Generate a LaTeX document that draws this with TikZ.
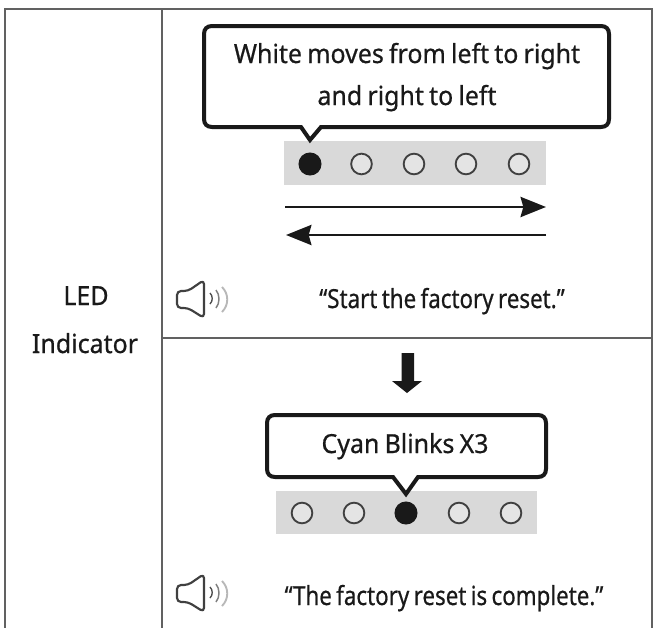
\documentclass[tikz,border=0pt]{standalone}
\usepackage{fontspec}
\setmainfont[FakeStretch=0.95,FakeBold=0.6,WordSpace=0.8]{Noto Sans}
\newfontfamily\tightfont[FakeStretch=0.85,FakeBold=0.6,WordSpace=0.75]{Noto Sans}
\usetikzlibrary{arrows.meta}
\definecolor{rulegray}{gray}{0.38}
\definecolor{barfill}{gray}{0.85}
\definecolor{ink}{gray}{0.1}
\tikzset{
  x=0.75pt,y=-0.75pt,
  tablerule/.style={draw=rulegray,line width=1.3pt},
  bubble/.style={draw=ink,line width=3pt,fill=white,line join=miter,miter limit=6},
  bar/.style={fill=barfill,draw=none},
  ledon/.style={circle,fill=ink,draw=ink,line width=0.8pt,minimum size=16.5pt,inner sep=0pt},
  ledoff/.style={circle,fill=barfill!70!white,draw=black!75,line width=1.4pt,minimum size=15.5pt,inner sep=0pt},
  label/.style={font=\fontsize{19.7pt}{23pt}\selectfont,text=ink,inner sep=0pt,anchor=base},
  saying/.style={font=\tightfont\fontsize{19.7pt}{23pt}\selectfont,text=ink,inner sep=0pt,anchor=base},
  flow/.style={draw=ink,line width=2.2pt,-{Stealth[length=19pt,width=15pt,inset=2pt]}},
  spk/.style={draw=black!75,line width=1.6pt,line join=round},
}
\newcommand{\speaker}[1]{%
  \begin{scope}[shift={(0,#1)}]
    \draw[spk,rounded corners=3pt] (204,0) -- (188,11) -- (177,11) -- (177,28) -- (188,28) -- (204,38) -- cycle;
    \draw[black!70,line width=1pt] (210,13) .. controls (213,16) and (213,21) .. (210,24);
    \draw[black!50,line width=1.1pt] (216,10) .. controls (220,15) and (220,23) .. (216,28);
    \draw[black!28,line width=1.4pt] (222,7) .. controls (229,14) and (229,25) .. (222,32);
  \end{scope}}
\begin{document}
\begin{tikzpicture}
\useasboundingbox (0,0) rectangle (654,628);
\fill[white] (0,0) rectangle (654,628);
% table
\coordinate (tl) at (5,9); \coordinate (tr) at (652,9);
\coordinate (bl) at (5,628); \coordinate (br) at (652,628);
\coordinate (ct) at (162,9); \coordinate (cb) at (162,628);
\coordinate (ml) at (162,338); \coordinate (mr) at (652,338);
\draw[tablerule] (bl) -- (tl) -- (tr) -- (br);
\draw[tablerule] (ct) -- (cb);
\draw[tablerule] (ml) -- (mr);
\node[label] (led) at (86,305) {LED};
\node[label] (ind) at (85,353) {Indicator};
% upper
\fill[bar] (284,141) rectangle (546,185);
\draw[bubble] (212,26) -- (601,26)
  .. controls (606,26) and (609,29) .. (609,34) -- (609,119)
  .. controls (609,124) and (606,127) .. (601,127)
  -- (321,127) -- (310,140) -- (301,127) -- (212,127)
  .. controls (207,127) and (204,124) .. (204,119) -- (204,34)
  .. controls (204,29) and (207,26) .. (212,26) -- cycle;
\node[label] (t1) at (407,63) {White moves from left to right};
\node[label] (t2) at (407,105) {and right to left};
\node[ledon] (a1) at (310,164) {};
\node[ledoff] (a2) at (361.5,164) {};
\node[ledoff] (a3) at (414,164) {};
\node[ledoff] (a4) at (466,164) {};
\node[ledoff] (a5) at (519,164) {};
\coordinate (r1) at (285,207); \coordinate (r2) at (546,207);
\coordinate (l1) at (546,235); \coordinate (l2) at (286,235);
\draw[flow] (r1) -- (r2);
\draw[flow] (l1) -- (l2);
\speaker{280}
\node[saying] (s1) at (442,308) {“Start the factory reset.”};
% lower
\fill[ink] (401.5,353) -- (414,353) -- (414,381) -- (422,381) -- (407,393) -- (392,381) -- (401.5,381) -- cycle;
\fill[bar] (276,491) rectangle (537,534);
\draw[bubble] (275,415) -- (538,415)
  .. controls (543,415) and (546,418) .. (546,423) -- (546,469)
  .. controls (546,474) and (543,477) .. (538,477)
  -- (418,477) -- (406,494) -- (393,477) -- (275,477)
  .. controls (270,477) and (267,474) .. (267,469) -- (267,423)
  .. controls (267,418) and (270,415) .. (275,415) -- cycle;
\node[label] (t3) at (405,453) {Cyan Blinks X3};
\node[ledoff] (b1) at (302,513) {};
\node[ledoff] (b2) at (354,513) {};
\node[ledon] (b3) at (406,513) {};
\node[ledoff] (b4) at (459,513) {};
\node[ledoff] (b5) at (511,513) {};
\speaker{574}
\node[saying] (s2) at (444,605) {“The factory reset is complete.”};
\end{tikzpicture}
\end{document}
